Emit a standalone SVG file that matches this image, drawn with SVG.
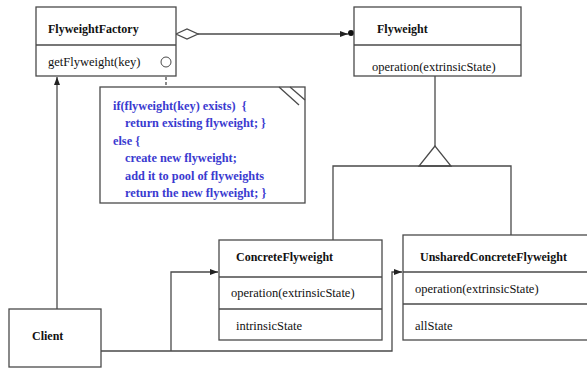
<svg xmlns="http://www.w3.org/2000/svg" width="587" height="369" viewBox="0 0 587 369">
<defs>
<marker id="arr" viewBox="0 0 8 8" refX="8" refY="4" markerWidth="8" markerHeight="8" markerUnits="userSpaceOnUse" orient="auto">
<path d="M0,1 L8,4 L0,7 Z" fill="#222"/>
</marker>
</defs>
<style>
.box{fill:#fff;stroke:#4a4a4a;stroke-width:1.3}
.ln{fill:none;stroke:#4a4a4a;stroke-width:1.3}
text{font-family:'Liberation Serif','Times New Roman',serif}
.t{font-size:12.5px;fill:#111}
.b{font-size:12px;font-weight:bold;fill:#111}
.n{font-size:12.3px;font-weight:bold;fill:#3a3ad0}
</style>
<rect width="587" height="369" fill="#fff"/>
<g id="connectors">
<polygon points="176,34 187,29 198,34 187,39" class="box"/>
<line x1="198" y1="34" x2="348" y2="34" class="ln" marker-end="url(#arr)"/>
<circle cx="351" cy="33" r="3" fill="#111"/>
<line x1="166" y1="67" x2="166" y2="87" class="ln" stroke-dasharray="3,2"/>
<line x1="57" y1="309" x2="57" y2="77" class="ln" marker-end="url(#arr)"/>
<line x1="435" y1="76" x2="435" y2="146" class="ln"/>
<polygon points="435,146 419,166 451,166" class="box"/>
<polyline points="333,240 333,166 511,166 511,235" class="ln"/>
<polyline points="101,351 392,351 392,272 402,272" class="ln" marker-end="url(#arr)"/>
<polyline points="171,351 171,272 218,272" class="ln" marker-end="url(#arr)"/>
</g>
<g id="FlyweightFactory">
<rect x="36" y="7" width="140" height="69" class="box"/>
<line x1="36" y1="45" x2="176" y2="45" class="ln"/>
<text x="48" y="33" class="b">FlyweightFactory</text>
<text x="48" y="66" class="t">getFlyweight(key)</text>
<circle cx="166" cy="62" r="5" fill="#fff" stroke="#4a4a4a" stroke-width="1"/>
</g>
<g id="Flyweight">
<rect x="354" y="7" width="167" height="69" class="box"/>
<line x1="354" y1="45" x2="521" y2="45" class="ln"/>
<text x="377" y="33" class="b">Flyweight</text>
<text x="372" y="71" class="t">operation(extrinsicState)</text>
</g>
<g id="note">
<rect x="100" y="87" width="205" height="116" class="box"/>
<line x1="279" y1="87" x2="299" y2="105" class="ln"/>
<line x1="290" y1="87" x2="305" y2="100" class="ln"/>
<text x="113" y="110" class="n" xml:space="preserve">if(flyweight(key) exists)  {</text>
<text x="125" y="127" class="n">return existing flyweight; }</text>
<text x="113" y="145" class="n">else {</text>
<text x="125" y="162" class="n">create new flyweight;</text>
<text x="125" y="180" class="n">add it to pool of flyweights</text>
<text x="125" y="197" class="n">return the new flyweight; }</text>
</g>
<g id="ConcreteFlyweight">
<rect x="219" y="240" width="163" height="100" class="box"/>
<line x1="219" y1="277" x2="382" y2="277" class="ln"/>
<line x1="219" y1="309" x2="382" y2="309" class="ln"/>
<text x="236" y="261" class="b">ConcreteFlyweight</text>
<text x="231" y="297" class="t">operation(extrinsicState)</text>
<text x="236" y="330" class="t">intrinsicState</text>
</g>
<g id="UnsharedConcreteFlyweight">
<rect x="403" y="235" width="190" height="105" class="box"/>
<line x1="403" y1="272" x2="593" y2="272" class="ln"/>
<line x1="403" y1="304" x2="593" y2="304" class="ln"/>
<text x="420" y="261" class="b">UnsharedConcreteFlyweight</text>
<text x="415" y="293" class="t">operation(extrinsicState)</text>
<text x="415" y="330" class="t">allState</text>
</g>
<g id="Client">
<rect x="9" y="309" width="92" height="58" class="box"/>
<text x="32" y="340" class="b">Client</text>
</g>
</svg>
